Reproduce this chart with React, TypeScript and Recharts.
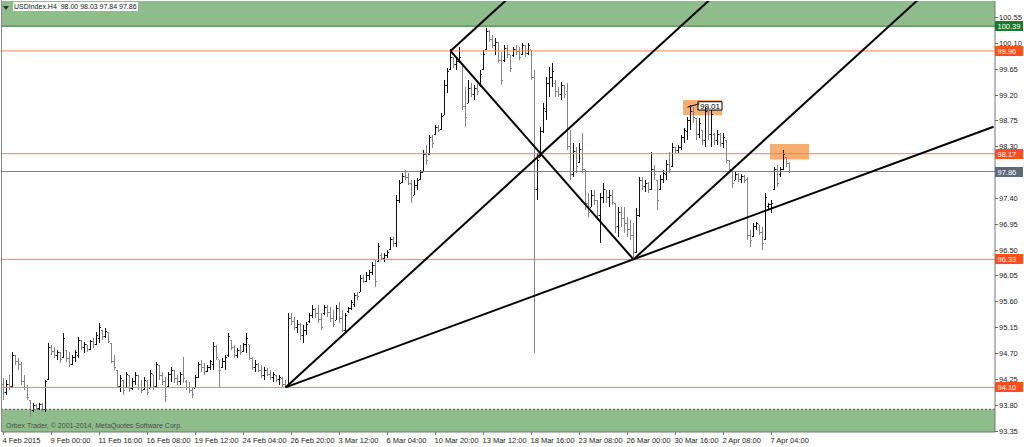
import React from "react";
import { ComposedChart, Bar, XAxis, YAxis, ReferenceLine, ReferenceArea } from "recharts";

// ---- OHLC data (USDIndex, H4), one entry per bar ----
const barOpen = [
  94.15,94.02,94.15,94.12,94.65,94.55,94.50,94.20,94.10,93.88,
  93.70,93.78,93.74,93.80,93.72,94.23,94.80,94.72,94.66,94.70,
  94.62,94.74,94.60,94.50,94.62,94.66,94.92,94.80,94.84,94.76,
  94.90,94.85,94.95,95.10,94.98,95.05,94.87,94.56,94.40,94.12,
  94.22,94.10,94.30,94.08,94.20,94.30,94.10,94.06,94.20,94.09,
  94.32,94.12,94.48,94.30,94.20,94.12,94.33,94.40,94.25,94.20,
  94.33,94.20,94.10,94.05,94.09,94.28,94.50,94.45,94.38,94.45,
  94.50,94.82,94.58,94.45,94.56,94.65,94.92,94.80,94.66,94.75,
  94.72,94.85,94.84,94.60,94.45,94.50,94.40,94.30,94.40,94.33,
  94.28,94.30,94.24,94.26,94.15,94.12,95.30,95.25,95.15,95.20,
  95.00,95.10,95.24,95.35,95.45,95.38,95.28,95.38,95.50,95.40,
  95.30,95.27,95.48,95.30,95.10,95.42,95.48,95.55,95.70,95.76,
  96.00,95.95,96.05,96.10,96.22,96.30,96.40,96.35,96.40,96.50,
  96.68,96.60,97.35,97.66,97.78,97.75,97.65,97.45,97.62,97.72,
  97.85,98.15,98.15,98.45,98.50,98.62,98.60,98.84,99.35,99.63,
  99.85,99.72,99.78,99.75,99.00,99.05,99.30,99.20,99.30,99.35,
  99.63,99.98,100.30,100.15,100.05,100.10,99.80,99.80,100.00,99.89,
  99.88,99.98,99.95,99.90,100.05,99.92,99.98,99.50,97.55,98.11,
  98.55,98.90,99.40,99.50,99.40,99.25,99.20,99.35,99.25,98.30,
  97.80,98.20,98.01,98.25,97.89,97.30,97.24,97.45,97.35,97.10,
  97.40,97.54,97.40,97.45,97.31,96.90,97.15,97.05,96.95,96.85,
  96.75,96.45,97.10,97.70,97.60,97.65,97.55,97.90,97.71,97.55,
  97.72,97.80,97.98,97.95,98.28,98.22,98.28,98.45,98.55,98.75,
  98.90,98.78,98.50,98.58,98.40,98.90,98.50,98.50,98.40,98.50,
  98.35,98.40,98.05,97.89,97.71,97.80,97.72,97.78,97.72,96.75,
  96.72,96.90,96.93,96.80,96.67,97.25,97.28,97.55,97.90,97.80,
  97.90,98.10,98.00,
];
const barHigh = [
  94.26,94.23,94.32,94.72,94.66,94.61,94.54,94.32,94.14,93.88,
  93.83,93.81,93.83,93.83,94.23,94.87,94.84,94.80,94.75,94.72,
  95.05,94.75,94.72,94.66,94.75,94.98,94.93,94.89,94.84,94.93,
  94.96,95.06,95.22,95.10,95.13,95.06,94.87,94.66,94.40,94.32,
  94.23,94.37,94.32,94.26,94.37,94.32,94.23,94.28,94.23,94.40,
  94.32,94.54,94.49,94.37,94.28,94.37,94.46,94.40,94.32,94.37,
  94.63,94.23,94.20,94.09,94.32,94.54,94.58,94.53,94.49,94.58,
  94.89,94.84,94.58,94.61,94.66,95.05,94.93,94.84,94.79,94.84,
  94.87,95.05,94.84,94.63,94.58,94.53,94.49,94.46,94.44,94.40,
  94.37,94.32,94.32,94.28,94.23,95.40,95.40,95.33,95.27,95.22,
  95.19,95.24,95.40,95.54,95.48,95.54,95.40,95.54,95.54,95.50,
  95.45,95.54,95.59,95.45,95.40,95.50,95.62,95.74,95.76,96.06,
  96.06,96.11,96.14,96.28,96.32,96.62,96.44,96.44,96.49,96.72,
  96.72,97.45,97.71,97.83,97.89,97.83,97.71,97.71,97.75,97.89,
  98.23,98.32,98.50,98.50,98.67,98.67,98.88,99.45,99.66,99.99,
  99.85,99.84,100.03,99.75,99.33,99.45,99.40,99.37,99.40,99.63,
  99.98,100.36,100.32,100.24,100.18,100.11,99.94,100.06,100.06,99.89,
  100.03,100.06,100.03,100.10,100.06,100.10,99.98,99.63,98.18,98.64,
  99.05,99.51,99.68,99.75,99.45,99.33,99.42,99.37,99.40,98.58,
  98.36,98.29,98.36,98.53,97.89,97.49,97.54,97.54,97.36,97.49,
  97.66,97.54,97.54,97.54,97.31,97.24,97.24,97.24,97.07,97.02,
  96.96,97.22,97.76,97.76,97.71,97.68,98.20,97.97,97.71,97.80,
  97.89,98.06,98.20,98.36,98.29,98.32,98.50,98.62,98.81,99.01,
  98.98,98.79,98.79,98.58,98.98,98.98,98.93,98.53,98.58,98.53,
  98.53,98.41,98.06,97.89,97.85,97.83,97.82,97.80,97.76,96.84,
  96.96,96.98,96.93,96.89,97.49,97.31,97.36,97.94,97.97,97.94,
  98.23,98.11,98.03,
];
const barLow = [
  93.88,93.97,94.06,94.09,94.49,94.40,94.14,94.06,93.88,93.58,
  93.67,93.71,93.71,93.67,93.67,94.23,94.66,94.61,94.58,94.53,
  94.61,94.54,94.46,94.49,94.54,94.61,94.75,94.70,94.72,94.75,
  94.79,94.84,94.87,94.93,94.96,94.87,94.53,94.40,94.09,94.02,
  93.97,94.09,94.02,94.06,94.14,94.06,94.00,94.06,93.97,94.09,
  94.06,94.11,94.23,94.14,93.85,94.11,94.20,94.18,94.14,94.14,
  94.18,94.06,94.00,93.92,94.09,94.26,94.37,94.32,94.37,94.40,
  94.40,94.58,94.11,94.44,94.40,94.63,94.75,94.61,94.61,94.66,
  94.72,94.70,94.58,94.40,94.37,94.37,94.26,94.23,94.30,94.23,
  94.20,94.20,94.14,94.11,94.10,94.10,95.19,95.10,95.05,94.93,
  94.87,95.01,95.22,95.31,95.31,95.22,95.10,95.36,95.33,95.24,
  95.15,95.27,95.22,95.06,95.06,95.40,95.45,95.50,95.62,95.76,
  95.92,95.94,95.97,96.06,95.85,96.28,96.32,96.28,96.35,96.49,
  96.55,96.55,97.31,97.66,97.71,97.62,97.31,97.45,97.54,97.71,
  97.85,97.97,98.15,98.27,98.50,98.55,98.58,98.84,99.23,99.63,
  99.66,99.63,99.75,98.93,98.64,99.05,99.16,99.11,99.19,99.33,
  99.63,99.98,100.11,100.01,99.89,99.75,99.37,99.77,99.84,99.59,
  99.85,99.89,99.80,99.89,99.85,99.89,99.45,94.70,97.36,98.11,
  98.53,98.76,99.16,99.33,99.16,99.16,99.11,99.14,98.23,97.71,
  97.76,97.83,98.01,97.83,97.19,97.07,97.24,97.28,97.02,96.62,
  97.31,97.31,97.24,97.28,96.79,96.72,96.89,96.79,96.72,96.67,
  96.33,96.44,97.07,97.54,97.50,97.49,97.54,97.71,97.19,97.54,
  97.66,97.71,97.83,97.94,98.18,98.18,98.23,98.36,98.41,98.58,
  98.70,98.41,98.44,98.32,98.29,98.41,98.29,98.32,98.32,98.29,
  98.27,98.01,97.83,97.57,97.71,97.68,97.66,97.66,96.67,96.55,
  96.72,96.84,96.75,96.49,96.67,97.19,97.14,97.54,97.59,97.76,
  97.89,97.94,97.84,
];
const barClose = [
  94.02,94.15,94.12,94.65,94.55,94.50,94.20,94.10,93.92,93.70,
  93.78,93.74,93.80,93.72,94.20,94.80,94.72,94.66,94.70,94.58,
  94.95,94.60,94.50,94.62,94.70,94.92,94.80,94.85,94.76,94.90,
  94.85,95.00,95.15,94.98,95.08,94.90,94.56,94.45,94.12,94.25,
  94.05,94.32,94.08,94.20,94.30,94.10,94.05,94.22,94.02,94.35,
  94.12,94.50,94.30,94.20,93.95,94.33,94.40,94.25,94.20,94.33,
  94.25,94.10,94.05,93.98,94.28,94.50,94.45,94.38,94.45,94.55,
  94.82,94.62,94.40,94.56,94.62,94.98,94.80,94.66,94.75,94.70,
  94.85,94.95,94.60,94.45,94.50,94.40,94.30,94.40,94.33,94.28,
  94.32,94.24,94.28,94.15,94.12,95.30,95.25,95.15,95.20,95.00,
  95.10,95.20,95.35,95.45,95.38,95.28,95.15,95.50,95.40,95.30,
  95.20,95.48,95.30,95.10,95.35,95.48,95.58,95.70,95.68,96.00,
  95.95,96.05,96.10,96.22,95.95,96.55,96.35,96.40,96.45,96.68,
  96.60,97.35,97.65,97.78,97.75,97.65,97.40,97.62,97.70,97.85,
  98.15,98.05,98.45,98.35,98.62,98.58,98.82,99.35,99.60,99.85,
  99.72,99.78,99.85,99.00,98.80,99.30,99.20,99.30,99.25,99.55,
  99.90,100.30,100.15,100.05,100.10,99.80,99.45,100.00,99.90,99.65,
  99.98,99.95,99.85,100.05,99.92,100.05,99.50,97.55,98.05,98.55,
  98.95,99.40,99.50,99.60,99.25,99.20,99.35,99.20,98.30,97.80,
  98.20,97.95,98.25,97.90,97.30,97.15,97.45,97.35,97.10,97.40,
  97.55,97.40,97.45,97.32,96.90,97.15,97.05,96.95,96.85,96.75,
  96.45,97.10,97.70,97.60,97.65,97.55,97.90,97.80,97.35,97.72,
  97.82,97.98,97.90,98.28,98.22,98.28,98.45,98.58,98.75,98.90,
  98.80,98.50,98.70,98.40,98.90,98.50,98.85,98.40,98.50,98.35,
  98.45,98.05,97.90,97.65,97.80,97.72,97.78,97.70,96.75,96.65,
  96.90,96.95,96.80,96.60,97.40,97.28,97.30,97.90,97.65,97.90,
  98.15,98.00,97.86,
];

// ---- axes ----
const SLOT_COUNT = 331; // bar slots visible in the window (incl. empty shift area)
const xTickIndex = [0,16,32,48,64,80,96,112,128,144,160,176,192,208,224,240,256];
const xTickLabels = [
  "4 Feb 2015","9 Feb 00:00","11 Feb 16:00","16 Feb 08:00","19 Feb 12:00","24 Feb 04:00",
  "26 Feb 20:00","3 Mar 12:00","6 Mar 04:00","10 Mar 20:00","13 Mar 12:00","18 Mar 16:00",
  "23 Mar 08:00","26 Mar 00:00","30 Mar 16:00","2 Apr 08:00","7 Apr 04:00",
];
const yTickValues = [100.55,100.10,99.65,99.20,98.75,98.30,97.40,96.95,96.50,96.05,95.60,95.15,94.70,94.25,93.80,93.35];
const yDomain = [93.324, 100.829];

// ---- horizontal levels ----
const levelPrices = [100.39, 99.96, 98.17, 97.86, 96.33, 94.10];
const levelLineColors = ["#2e7d32", "#f98052", "#f98052", "#808080", "#f98052", "#f98052"];
const levelTagColors = ["#1d7a2c", "#ff4d1a", "#ff4d1a", "#5d6a78", "#ff4d1a", "#ff4d1a"];

// ---- zones ----
const topZone = [100.39, 101.2];
const bottomZone = [93.0, 93.72];

// ---- trend lines: [startIdx, startPrice, endIdx, endPrice] ----
const trendLines = [
  [94, 94.10, 330, 98.64],
  [94, 94.10, 240, 101.07],
  [210, 96.33, 330, 102.05],
  [149, 99.96, 170, 100.96],
  [149, 99.96, 210, 96.33],
];

// ---- highlight rectangles: [x1, x2, y1, y2] ----
const highlightBoxes = [
  [227, 239, 98.84, 99.105],
  [256, 268, 98.07, 98.34],
];

const calloutText = "99.01";
const calloutBox = [232, 239, 98.93, 99.075];
const calloutLine = [228, 98.98, 232, 99.04];

const table = Array.from({ length: SLOT_COUNT }, (_, i) =>
  i < barHigh.length
    ? { i, o: barOpen[i], h: barHigh[i], l: barLow[i], c: barClose[i] }
    : { i }
);

const FONT = "'Liberation Sans', Arial, sans-serif";
const PLOT_RIGHT = 995;

function OhlcShape(props: any) {
  const { x, y, width, height, payload } = props;
  if (!payload || payload.h == null || x == null) return null;
  const top = Math.min(y, y + height);
  const h = Math.abs(height);
  const col = Math.round(x + width / 2 - 0.5);
  const span = payload.h - payload.l;
  const yAt = (v: number) => (span > 0 ? top + ((payload.h - v) / span) * h : top);
  const yo = Math.round(yAt(payload.o) - 0.5) + 0.5;
  const yc = Math.round(yAt(payload.c) - 0.5) + 0.5;
  const color = payload.c >= payload.o ? "#111111" : "#858585";
  return (
    <g>
      <line x1={col + 0.5} x2={col + 0.5} y1={Math.round(top)} y2={Math.round(top + Math.max(h, 1))} stroke={color} strokeWidth={1} />
      <line x1={col - 1} x2={col} y1={yo} y2={yo} stroke={color} strokeWidth={1} />
      <line x1={col + 1} x2={col + 2} y1={yc} y2={yc} stroke={color} strokeWidth={1} />
    </g>
  );
}

function TimeTick(props: any) {
  const { x, y, payload } = props;
  const k = xTickIndex.indexOf(payload.value);
  if (k < 0) return null;
  return (
    <text x={x - 1} y={y + 8} fontSize={7.5} fill="#222" fontFamily={FONT} textAnchor="start">
      {xTickLabels[k]}
    </text>
  );
}

function PriceTick(props: any) {
  const { y, payload } = props;
  const v = Number(payload.value);
  const yy = Math.round(y);
  const k = levelPrices.findIndex((p) => Math.abs(p - v) < 1e-6);
  if (k >= 0) {
    return (
      <g>
        <rect x={PLOT_RIGHT} y={yy - 5} width={28} height={10} fill={levelTagColors[k]} />
        <text x={PLOT_RIGHT + 2.5} y={yy + 3} fontSize={7.5} fill="#ffffff" fontFamily={FONT}>
          {v.toFixed(2)}
        </text>
      </g>
    );
  }
  return (
    <g>
      <line x1={PLOT_RIGHT} x2={PLOT_RIGHT + 3} y1={yy + 0.5} y2={yy + 0.5} stroke="#666" />
      <text x={PLOT_RIGHT + 4} y={yy + 3} fontSize={7.5} fill="#222" fontFamily={FONT}>
        {v.toFixed(2)}
      </text>
    </g>
  );
}

export default function App() {
  return (
    <div style={{ position: "relative", width: 1024, height: 447, background: "#fff", overflow: "hidden" }}>
      <style>{"body{margin:0}"}</style>
      <ComposedChart
        width={1024}
        height={447}
        data={table}
        margin={{ top: 1, right: 0, bottom: 0, left: 2 }}
        barCategoryGap="10%"
      >
        <XAxis
          dataKey="i"
          type="category"
          ticks={xTickIndex}
          interval={0}
          height={15}
          tickSize={3}
          tickMargin={0}
          axisLine={{ stroke: "#777" }}
          tickLine={{ stroke: "#777" }}
          tick={<TimeTick />}
        />
        <YAxis
          orientation="right"
          type="number"
          domain={yDomain}
          allowDataOverflow
          width={29}
          ticks={[...yTickValues, ...levelPrices]}
          interval={0}
          tickLine={false}
          axisLine={{ stroke: "#777" }}
          tick={<PriceTick />}
        />
        <ReferenceArea y1={topZone[0]} y2={topZone[1]} fill="#8fbc8b" fillOpacity={1} stroke="none" ifOverflow="hidden" />
        <ReferenceArea y1={bottomZone[0]} y2={bottomZone[1]} fill="#8fbc8b" fillOpacity={1} stroke="none" ifOverflow="hidden" />
        <ReferenceLine y={bottomZone[1]} stroke="#555" strokeDasharray="2 2" />
        {highlightBoxes.map((b, k) => (
          <ReferenceArea key={"hb" + k} x1={b[0]} x2={b[1]} y1={b[2]} y2={b[3]} fill="#f4a460" fillOpacity={0.9} stroke="none" />
        ))}
        {levelPrices.map((p, k) => (
          <ReferenceLine key={"lv" + k} y={p} stroke={levelLineColors[k]} strokeWidth={1} />
        ))}
        <Bar
          dataKey={(d: any) => (d.h == null ? null : [d.l, d.h])}
          shape={<OhlcShape />}
          isAnimationActive={false}
        />
        {trendLines.map((t, k) => (
          <ReferenceLine
            key={"tl" + k}
            segment={[{ x: t[0], y: t[1] }, { x: t[2], y: t[3] }]}
            stroke="#000"
            strokeWidth={2}
            ifOverflow="hidden"
          />
        ))}
        <ReferenceLine
          segment={[{ x: calloutLine[0], y: calloutLine[1] }, { x: calloutLine[2], y: calloutLine[3] }]}
          stroke="#000"
          strokeWidth={1}
          ifOverflow="hidden"
        />
        <ReferenceArea
          x1={calloutBox[0]}
          x2={calloutBox[1]}
          y1={calloutBox[2]}
          y2={calloutBox[3]}
          fill="#ffffff"
          fillOpacity={1}
          stroke="#000"
          strokeWidth={1}
          label={{ value: calloutText, position: "center", fontSize: 8, fill: "#000", fontFamily: FONT }}
        />
      </ComposedChart>
      <div style={{ position: "absolute", left: 1, top: 0, width: 1, height: 432, background: "#888" }} />
      <div
        style={{
          position: "absolute", left: 3, top: 6, width: 0, height: 0,
          borderLeft: "3px solid transparent", borderRight: "3px solid transparent", borderTop: "4px solid #333",
        }}
      />
      <div
        style={{
          position: "absolute", left: 13, top: 2, height: 9, lineHeight: "9px", padding: "0 1px",
          background: "#fff", fontFamily: FONT, fontSize: 7, color: "#111", whiteSpace: "pre",
        }}
      >
        {"USDIndex.H4  98.00 98.03 97.84 97.86"}
      </div>
      <div
        style={{
          position: "absolute", left: 6, top: 421, lineHeight: "9px",
          fontFamily: FONT, fontSize: 7, color: "#4a4f4a", whiteSpace: "pre",
        }}
      >
        {"Orbex Trader, © 2001-2014, MetaQuotes Software Corp."}
      </div>
    </div>
  );
}
